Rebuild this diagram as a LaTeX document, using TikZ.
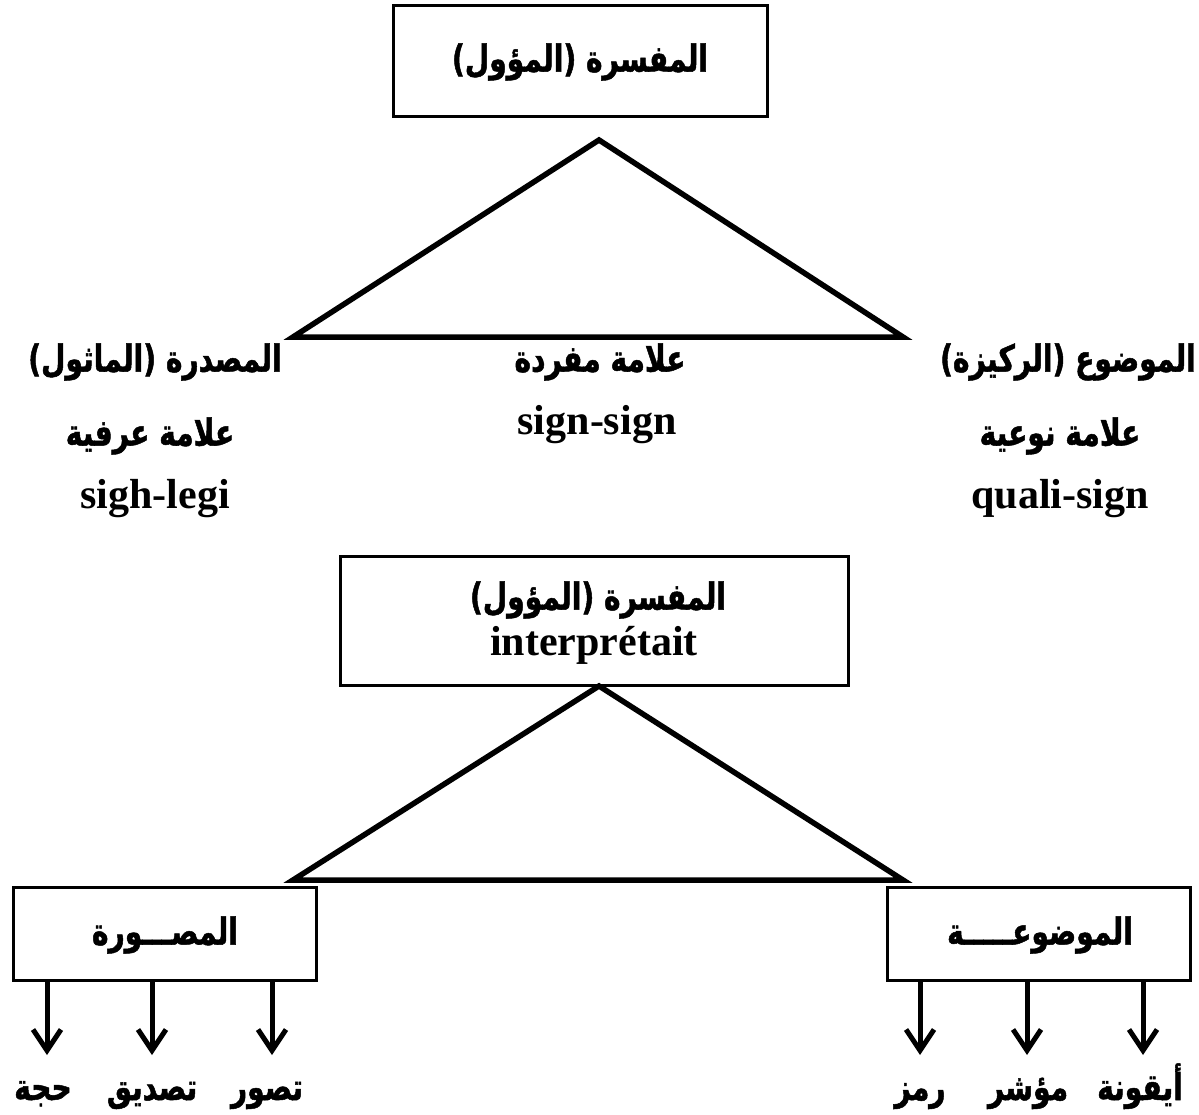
\documentclass[tikz,border=0pt]{standalone}
\usepackage{fontspec}
\setmainfont{Liberation Serif}
\newfontfamily\arabicfont[Script=Arabic, FakeStretch=0.76, BoldFeatures={FakeBold=1.3}]{DejaVu Sans}
\TeXXeTstate=1
\usetikzlibrary{arrows.meta}
\newcommand{\AR}[1]{{\arabicfont\bfseries\beginR #1\endR}}
\begin{document}
\begin{tikzpicture}[x=1pt,y=-1pt,
  ar/.style={font=\bfseries\fontsize{37}{41}\selectfont, inner sep=0pt},
  la/.style={font=\bfseries\fontsize{42}{46}\selectfont, inner sep=0pt},
  box/.style={draw, line width=3pt, inner sep=0pt},
  tri/.style={line width=5.5pt, line join=miter},
  arr/.style={line width=5pt, -{Straight Barb[length=21pt,width=28pt]}}]
\useasboundingbox (0,0) rectangle (1199,1115);

% top box
\node[box, minimum width=374pt, minimum height=111pt] (topbox) at (580,61.5) {};
\node[ar] (toptext) at (580,62) {\AR{المفسرة (المؤول)}};

% triangle 1
\coordinate (t1a) at (599,140);
\coordinate (t1l) at (293,337);
\coordinate (t1r) at (903,337);
\draw[tri] (t1a) -- (t1l) -- (t1r) -- cycle;

% left labels
\node[ar] (l1) at (155,362) {\AR{المصدرة (الماثول)}};
\node[ar] (l2) at (150,436) {\AR{علامة عرفية}};
\node[la] (l3) at (155,499) {sigh-legi};
% middle labels
\node[ar] (m1) at (600,362) {\AR{علامة مفردة}};
\node[la] (m2) at (597,425) {sign-sign};
% right labels
\node[ar] (r1) at (1068,362) {\AR{الموضوع (الركيزة)}};
\node[ar] (r2) at (1060,436) {\AR{علامة نوعية}};
\node[la] (r3) at (1060,499) {quali-sign};

% second box
\node[box, minimum width=508pt, minimum height=129pt] (midbox) at (594,620.5) {};
\node[ar] (midtext1) at (598,600) {\AR{المفسرة (المؤول)}};
\node[la] (midtext2) at (594,645) {interprétait};

% triangle 2
\coordinate (t2a) at (599,686);
\coordinate (t2l) at (293,880);
\coordinate (t2r) at (903,880);
\draw[tri] (t2a) -- (t2l) -- (t2r) -- cycle;

% bottom boxes
\node[box, minimum width=303pt, minimum height=93pt] (lbox) at (164.5,933.5) {};
\node[ar] (lboxtext) at (165,935) {\AR{المصـــورة}};
\node[box, minimum width=303pt, minimum height=93pt] (rbox) at (1038.5,933.5) {};
\node[ar] (rboxtext) at (1040,935) {\AR{الموضوعـــــة}};

% bottom labels
\node[ar, anchor=base] (b1) at (43,1100) {\AR{حجة}};
\node[ar, anchor=base] (b2) at (152,1100) {\AR{تصديق}};
\node[ar, anchor=base] (b3) at (267,1100) {\AR{تصور}};
\node[ar, anchor=base] (b4) at (920,1100) {\AR{رمز}};
\node[ar, anchor=base] (b5) at (1028,1100) {\AR{مؤشر}};
\node[ar, anchor=base] (b6) at (1140,1100) {\AR{أيقونة}};

% arrows
\foreach \x/\n in {47/a1,152/a2,272/a3}{
  \coordinate (\n) at (\x,1055);
  \draw[arr] (lbox.south -| \n) -- (\n);
}
\foreach \x/\n in {920/a4,1027/a5,1143/a6}{
  \coordinate (\n) at (\x,1055);
  \draw[arr] (rbox.south -| \n) -- (\n);
}
\end{tikzpicture}
\end{document}
